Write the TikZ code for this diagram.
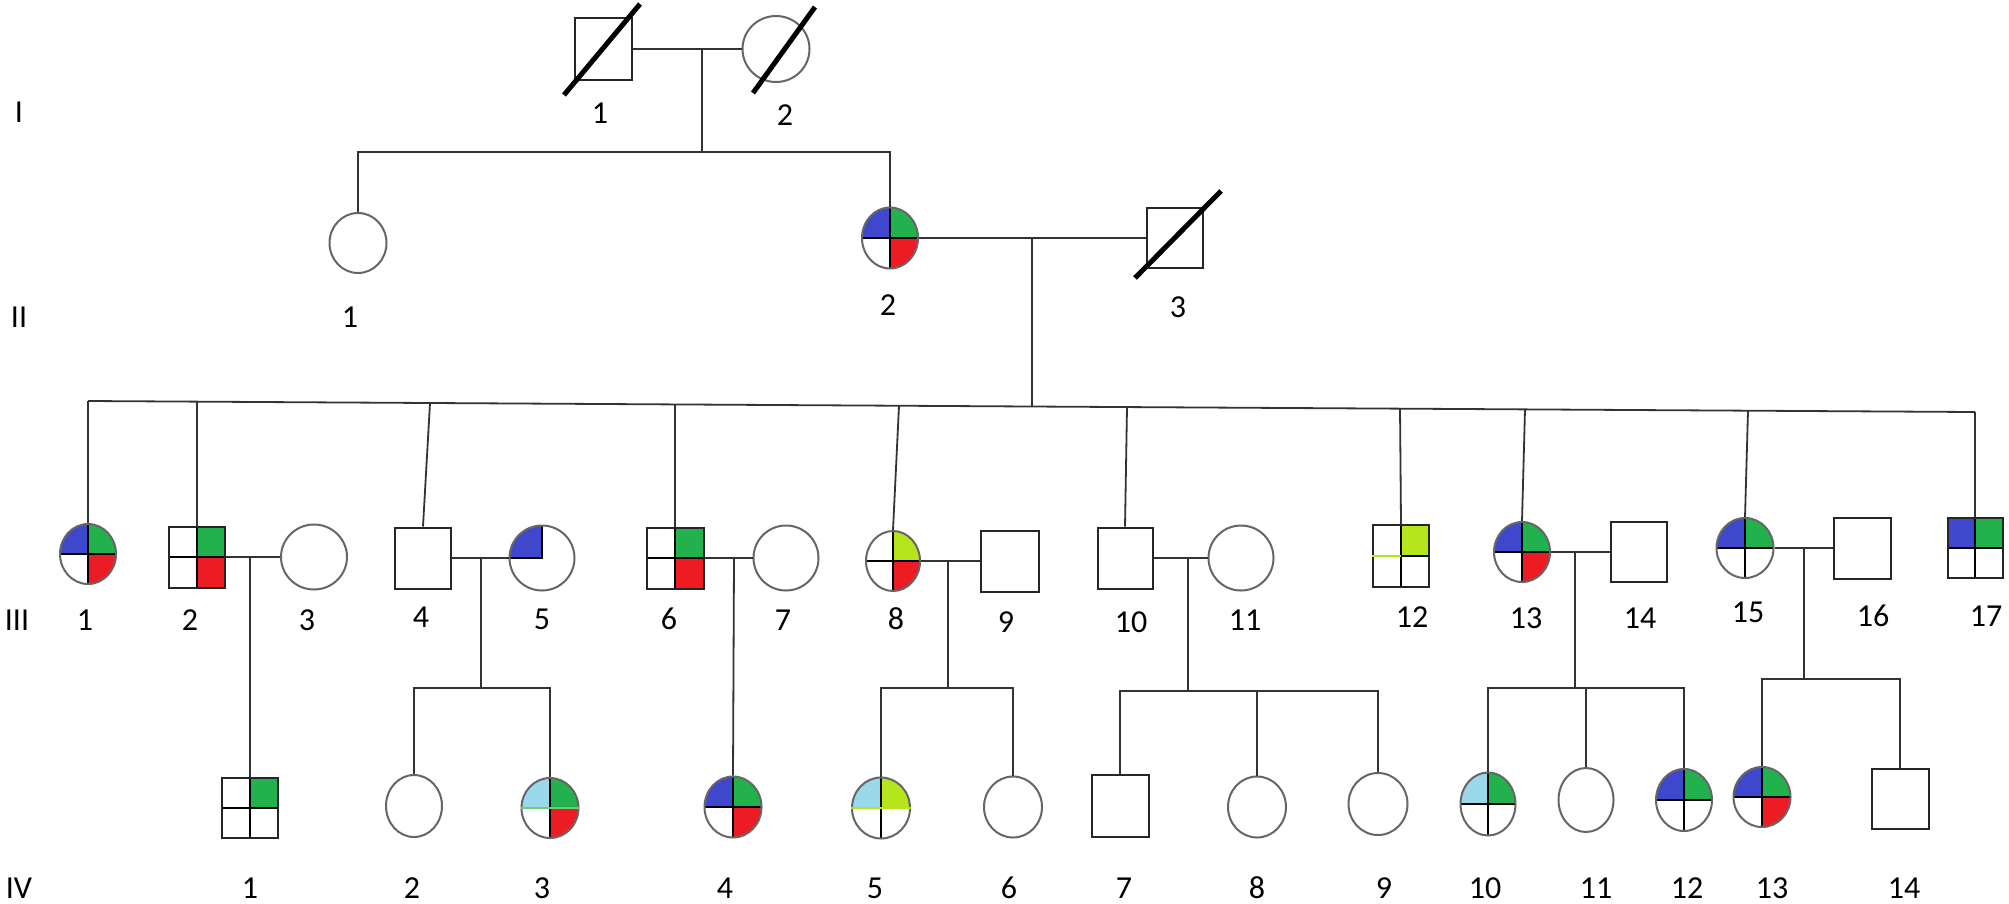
\documentclass[tikz,border=0pt]{standalone}
\usepackage{fontspec}
\setmainfont{Carlito}
\usetikzlibrary{shapes.geometric}
\definecolor{qblue}{RGB}{63,72,204}
\definecolor{qgreen}{RGB}{34,177,76}
\definecolor{qred}{RGB}{237,28,36}
\definecolor{qyg}{RGB}{181,230,29}
\definecolor{qlb}{RGB}{153,217,234}
\definecolor{qlg}{RGB}{110,205,110}
\begin{document}
\begin{tikzpicture}[x=1pt,y=-1pt]
\tikzset{
 link/.style={draw=black!80, line width=1.8pt},
 fem/.style={ellipse, draw=black!60, line width=2pt, fill=white, inner sep=0pt, minimum width=57pt, minimum height=60pt},
 mal/.style={rectangle, draw=black!85, line width=2pt, fill=white, inner sep=0pt, minimum width=56pt, minimum height=61pt},
 sz/.style 2 args={minimum width=#1pt, minimum height=#2pt},
 qline/.style={draw=black, line width=2.5pt},
 slashline/.style={draw=black, line width=5pt},
 lab/.style={font=\fontsize{32}{38}\selectfont, inner sep=0pt},
 quad/.style n args={4}{path picture={
   \fill[#1] (path picture bounding box.center) rectangle (path picture bounding box.north west);
   \fill[#2] (path picture bounding box.center) rectangle (path picture bounding box.north east);
   \fill[#3] (path picture bounding box.center) rectangle (path picture bounding box.south west);
   \fill[#4] (path picture bounding box.center) rectangle (path picture bounding box.south east);
   \draw[qline] (path picture bounding box.north) -- (path picture bounding box.south);
   \draw[qline] (path picture bounding box.west) -- (path picture bounding box.east);
 }},
 tlonly/.style={path picture={
   \fill[#1] (path picture bounding box.center) rectangle (path picture bounding box.north west);
   \draw[qline] (path picture bounding box.north) -- (path picture bounding box.center) -- (path picture bounding box.west);
 }}
}
\useasboundingbox (0,0) rectangle (2009,903);
\fill[white] (0,0) rectangle (2009,903);

% ---------- Generation I ----------
\node[mal, sz={57}{62}] (i1) at (603,49) {};
\node[fem, sz={67}{66}] (i2) at (776,49) {};
\draw[link] (i1.east) -- (i2.west);
\draw[slashline] ([shift={(-39,46)}]i1.center) -- ([shift={(37,-45)}]i1.center);
\draw[slashline] ([shift={(-23,44)}]i2.center) -- ([shift={(39,-42)}]i2.center);
\coordinate (m1) at (702,49);
\coordinate (s1) at (702,152);

% ---------- Generation II ----------
\node[fem, sz={57}{60}] (ii1) at (358,243) {};
\node[fem, sz={56}{61}, quad={qblue}{qgreen}{white}{qred}] (ii2) at (890,238) {};
\node[mal, sz={56}{60}] (ii3) at (1175,238) {};
\draw[slashline] ([shift={(-40,40)}]ii3.center) -- ([shift={(46,-47)}]ii3.center);
\draw[link] (m1) -- (s1);
\draw[link] (ii1.north) -- (ii1.north |- s1) -- (ii2.north |- s1) -- (ii2.north);
\draw[link] (ii2.east) -- (ii3.west);
\coordinate (m2) at (1032,238);

% ---------- Generation III ----------
\coordinate (d1) at (88,401);
\coordinate (d2) at (197,401.6);
\coordinate (d4) at (430,403);
\coordinate (d6) at (675,404.4);
\coordinate (d8) at (899,405.7);
\coordinate (dII) at (1032,406.5);
\coordinate (d10) at (1127,407.1);
\coordinate (d12) at (1400,408.6);
\coordinate (d13) at (1525,409.4);
\coordinate (d15) at (1748,410.7);
\coordinate (d17) at (1975,412);
\draw[link] (d1) -- (d17);
\draw[link] (m2) -- (dII);

\node[fem, sz={56}{60}, quad={qblue}{qgreen}{white}{qred}] (iii1) at (88,554) {};
\node[mal, sz={56}{61}, quad={white}{qgreen}{white}{qred}] (iii2) at (197,557) {};
\node[fem, sz={66}{65}] (iii3) at (314,557) {};
\node[mal, sz={56}{61}] (iii4) at (423,558) {};
\node[fem, sz={65}{65}, tlonly=qblue] (iii5) at (542,558) {};
\node[mal, sz={57}{61}, quad={white}{qgreen}{white}{qred}] (iii6) at (675,558) {};
\node[fem, sz={65}{65}] (iii7) at (786,558) {};
\node[fem, sz={54}{60}, quad={white}{qyg}{white}{qred}] (iii8) at (893,561) {};
\node[mal, sz={58}{61}] (iii9) at (1010,561) {};
\node[mal, sz={55}{61}] (iii10) at (1125,558) {};
\node[fem, sz={65}{65}] (iii11) at (1241,558) {};
\node[mal, sz={56}{62}, quad={white}{qyg}{white}{white}] (iii12) at (1401,556) {};
\draw[qyg, line width=2.5pt] (iii12.west) -- (iii12.center);
\node[fem, sz={56}{60}, quad={qblue}{qgreen}{white}{qred}] (iii13) at (1522,552) {};
\node[mal, sz={56}{60}] (iii14) at (1639,552) {};
\node[fem, sz={57}{60}, quad={qblue}{qgreen}{white}{white}] (iii15) at (1745,548) {};
\node[mal, sz={57}{61}] (iii16) at (1862,548) {};
\node[mal, sz={55}{60}, quad={qblue}{qgreen}{white}{white}] (iii17) at (1975,548) {};

\draw[link] (d1) -- (iii1.north);
\draw[link] (d2) -- (iii2.north);
\draw[link] (d4) -- (iii4.north);
\draw[link] (d6) -- (iii6.north);
\draw[link] (d8) -- (iii8.north);
\draw[link] (d10) -- (iii10.north);
\draw[link] (d12) -- (iii12.north);
\draw[link] (d13) -- (iii13.north);
\draw[link] (d15) -- (iii15.north);
\draw[link] (d17) -- (iii17.north);

\draw[link] (iii2.east) -- (iii3.west);
\draw[link] (iii4.east) -- (iii5.west);
\draw[link] (iii6.east) -- (iii7.west);
\draw[link] (iii8.east) -- (iii9.west);
\draw[link] (iii10.east) -- (iii11.west);
\draw[link] (iii13.east) -- (iii14.west);
\draw[link] (iii15.east) -- (iii16.west);

% ---------- Generation IV ----------
\node[mal, sz={56}{60}, quad={white}{qgreen}{white}{white}] (iv1) at (250,808) {};
\node[fem, sz={56}{62}] (iv2) at (414,806) {};
\node[fem, sz={57}{60}, quad={qlb}{qgreen}{white}{qred}] (iv3) at (550,808) {};
\draw[qlg, line width=2.5pt] (iv3.west) -- (iv3.east);
\node[fem, sz={57}{61}, quad={qblue}{qgreen}{white}{qred}] (iv4) at (733,807) {};
\node[fem, sz={58}{61}, quad={qlb}{qyg}{white}{white}] (iv5) at (881,808) {};
\draw[qyg, line width=2.5pt] (iv5.west) -- (iv5.east);
\node[fem, sz={58}{61}] (iv6) at (1013,807) {};
\node[mal, sz={57}{62}] (iv7) at (1120,806) {};
\node[fem, sz={58}{61}] (iv8) at (1257,807) {};
\node[fem, sz={59}{62}] (iv9) at (1378,804) {};
\node[fem, sz={55}{63}, quad={qlb}{qgreen}{white}{white}] (iv10) at (1488,804) {};
\node[fem, sz={55}{64}] (iv11) at (1586,800) {};
\node[fem, sz={56}{62}, quad={qblue}{qgreen}{white}{white}] (iv12) at (1684,800) {};
\node[fem, sz={57}{60}, quad={qblue}{qgreen}{white}{qred}] (iv13) at (1762,797) {};
\node[mal, sz={57}{60}] (iv14) at (1900,799) {};

\coordinate (m32) at (250,557);
\draw[link] (m32) -- (iv1.north);

\coordinate (m45) at (481,558);
\coordinate (c45) at (481,688);
\draw[link] (m45) -- (c45);
\draw[link] (iv2.north) -- (iv2.north |- c45) -- (iv3.north |- c45) -- (iv3.north);

\coordinate (m67) at (734,558);
\draw[link] (m67) -- (iv4.north);

\coordinate (m89) at (948,561);
\coordinate (c89) at (948,688);
\draw[link] (m89) -- (c89);
\draw[link] (iv5.north) -- (iv5.north |- c89) -- (iv6.north |- c89) -- (iv6.north);

\coordinate (m1011) at (1188,558);
\coordinate (c1011) at (1188,691);
\draw[link] (m1011) -- (c1011);
\draw[link] (iv7.north) -- (iv7.north |- c1011) -- (iv9.north |- c1011) -- (iv9.north);
\draw[link] (iv8.north |- c1011) -- (iv8.north);

\coordinate (m1314) at (1575,552);
\coordinate (c1314) at (1575,688);
\draw[link] (m1314) -- (c1314);
\draw[link] (iv10.north) -- (iv10.north |- c1314) -- (iv12.north |- c1314) -- (iv12.north);
\draw[link] (iv11.north |- c1314) -- (iv11.north);

\coordinate (m1516) at (1804,548);
\coordinate (c1516) at (1804,679);
\draw[link] (m1516) -- (c1516);
\draw[link] (iv13.north) -- (iv13.north |- c1516) -- (iv14.north |- c1516) -- (iv14.north);

% ---------- Labels ----------
\node[lab] (gI) at (19,112) {I};
\node[lab] (gII) at (19,317) {II};
\node[lab] (gIII) at (17,620) {III};
\node[lab] (gIV) at (19,888) {IV};

\node[lab] (t-i1) at (600,113) {1};
\node[lab] (t-i2) at (785,115) {2};

\node[lab] (t-ii1) at (350,317) {1};
\node[lab] (t-ii2) at (888,305) {2};
\node[lab] (t-ii3) at (1178,307) {3};

\node[lab] (t-iii1) at (85,620) {1};
\node[lab] (t-iii2) at (190,620) {2};
\node[lab] (t-iii3) at (307,620) {3};
\node[lab] (t-iii4) at (421,617) {4};
\node[lab] (t-iii5) at (542,619) {5};
\node[lab] (t-iii6) at (669,619) {6};
\node[lab] (t-iii7) at (783,620) {7};
\node[lab] (t-iii8) at (896,619) {8};
\node[lab] (t-iii9) at (1006,622) {9};
\node[lab] (t-iii10) at (1131,622) {10};
\node[lab] (t-iii11) at (1245,620) {11};
\node[lab] (t-iii12) at (1412,617) {12};
\node[lab] (t-iii13) at (1526,618) {13};
\node[lab] (t-iii14) at (1640,618) {14};
\node[lab] (t-iii15) at (1748,612) {15};
\node[lab] (t-iii16) at (1873,616) {16};
\node[lab] (t-iii17) at (1986,616) {17};

\node[lab] (t-iv1) at (250,888) {1};
\node[lab] (t-iv2) at (412,888) {2};
\node[lab] (t-iv3) at (542,888) {3};
\node[lab] (t-iv4) at (725,888) {4};
\node[lab] (t-iv5) at (875,888) {5};
\node[lab] (t-iv6) at (1009,888) {6};
\node[lab] (t-iv7) at (1124,888) {7};
\node[lab] (t-iv8) at (1257,888) {8};
\node[lab] (t-iv9) at (1384,888) {9};
\node[lab] (t-iv10) at (1485,888) {10};
\node[lab] (t-iv11) at (1596,888) {11};
\node[lab] (t-iv12) at (1687,888) {12};
\node[lab] (t-iv13) at (1772,888) {13};
\node[lab] (t-iv14) at (1904,888) {14};
\end{tikzpicture}
\end{document}
